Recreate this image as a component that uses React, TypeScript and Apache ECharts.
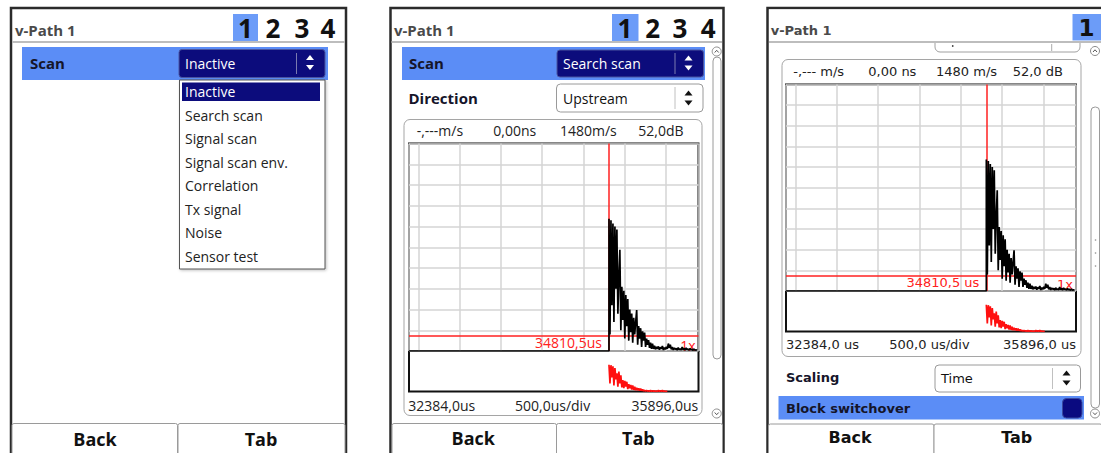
import React, { useEffect, useRef } from "react";
import * as echarts from "echarts";

// ---------------- data ----------------
const X_MIN_US = 32384;
const X_MAX_US = 35896;
const X_DIV_US = 500;
const CURSOR_US = 34810.5;
const THRESHOLD_PCT = 7.2;
const AMP_MAX = 100;
const AMP_STEP = 10;
const SAMPLE_START_US = 34810;
const SAMPLE_STEP_US = 12;

// received echo (upper plot), amplitude in % of full scale, one sample per SAMPLE_STEP_US
const ECHO_SIGNAL = [
  63.7, 8, 63, 22, 61.5, 14, 60, 30, 58.5, 18,
  36, 48.8, 10, 31, 15, 29, 6, 27, 12, 25,
  5, 20, 9, 18, 4, 16, 8, 14, 19.7, 3,
  12, 6, 11, 2, 9.5, 5, 8.9, 2, 6, 3,
  5.2, 1.5, 4, 1, 3.6, 1, 2.5, 0.8, 2, 1,
  2.2, 0.6, 1.8, 1, 2.4, 0.5, 1.6, 0.8, 2, 1,
  3.6, 1.5, 3, 0.8, 1.9, 0.5, 1.5, 0.8, 1.2, 0.4,
  1.6, 0.6, 1.1, 0.5, 1.9, 0.6, 1.3, 0.4, 1.5, 0.7,
  1, 0.4, 1.2, 0.5, 0.9, 0.3, 1, 0.4, 0.6, 0.3,
];

// envelope (lower plot), % of full scale
const ECHO_ENVELOPE = [
  66, 20, 65, 35, 62, 15, 58, 30, 45, 12,
  49, 20, 40, 10, 28, 8, 26, 12, 24, 6,
  18, 8, 16, 5, 15, 4, 12, 3, 9, 3,
  8, 2, 7, 2, 5, 1.5, 3, 1, 2.5, 1,
  2, 0.5, 3, 0.5, 2, 0.5, 1.5, 0.3, 1, 0.3,
  2.5, 0.3, 2, 0.3, 3, 0.3, 1, 0.3, 0.5, 0.2,
];

const SCAN_MODES = [
  "Inactive",
  "Search scan",
  "Signal scan",
  "Signal scan env.",
  "Correlation",
  "Tx signal",
  "Noise",
  "Sensor test",
];
const PATH_TABS = ["1", "2", "3", "4"];
const STATUS_TEXT = ["-,---m/s", "0,00ns", "1480m/s", "52,0dB"];
const STATUS_TEXT_WIDE = ["-,--- m/s", "0,00 ns", "1480 m/s", "52,0 dB"];
const PAGE_TITLE = "v-Path 1";

// ---------------- helpers ----------------
const OS = "'Open Sans', 'DejaVu Sans', sans-serif";
const DJ = "'DejaVu Sans', sans-serif";
const BLUE = "#5b8df6";
const TAB_BLUE = "#6c9cf8";
const NAVY = "#0c0c7c";
const RED = "#ff2020";

const fmt = (v: number, d: number) => v.toFixed(d).replace(".", ",");

const toSamples = (vals: number[]) =>
  vals.map((v, i) => [SAMPLE_START_US + i * SAMPLE_STEP_US, v]);
const echoData = [[X_MIN_US, 0], [SAMPLE_START_US, 0], ...toSamples(ECHO_SIGNAL)];
const envData = toSamples(ECHO_ENVELOPE);

const T = (x: number, y: number, text: string, font: string, fill = "#1a1a1a", align = "left") => ({
  type: "text",
  x,
  y,
  z: 4,
  style: { text, font, fill, align, verticalAlign: "middle" },
});
const R = (x: number, y: number, w: number, h: number, style: any, r = 0, z = 1) => ({
  type: "rect",
  z,
  shape: { x, y, width: w, height: h, r },
  style,
});
const L = (x1: number, y1: number, x2: number, y2: number, stroke: string, lineWidth = 1, z = 2) => ({
  type: "line",
  z,
  shape: { x1, y1, x2, y2 },
  style: { stroke, lineWidth },
});
const P = (points: number[][], fill: string) => ({
  type: "polygon",
  z: 3,
  shape: { points },
  style: { fill },
});
const spinner = (cx: number, cy: number, fill: string) => [
  P([[cx - 4, cy - 2.5], [cx + 4, cy - 2.5], [cx, cy - 7.5]], fill),
  P([[cx - 4, cy + 2.5], [cx + 4, cy + 2.5], [cx, cy + 7.5]], fill),
];
const scrollArrow = (cx: number, cy: number, up: boolean) => [
  { type: "circle", z: 2, shape: { cx, cy, r: 4.5 }, style: { fill: "#fff", stroke: "#8a8a8a", lineWidth: 1 } },
  {
    type: "polyline",
    z: 3,
    shape: {
      points: up
        ? [[cx - 2, cy + 1], [cx, cy - 1.2], [cx + 2, cy + 1]]
        : [[cx - 2, cy - 1], [cx, cy + 1.2], [cx + 2, cy - 1]],
    },
    style: { stroke: "#555", lineWidth: 1, fill: null },
  },
];
const frame = (x: number, w: number) => R(x, 8, w, 480, { fill: "#fff", stroke: "#2b2b2b", lineWidth: 2.5 }, 0, 0);
const button = (x: number, w: number, y: number) =>
  R(x, y, w, 40, { fill: "#fff", stroke: "#9a9a9a", lineWidth: 1 }, 2, 1);

// ---------------- graphic (device UI) ----------------
const tabX1 = [245.5, 273, 302, 328];
const tabX2 = [625, 652.7, 680, 708.3];

const ui: any[] = [];

// Panel 1
ui.push(frame(11, 335));
ui.push(L(12, 42, 345, 42, "#bdbdbd", 2));
ui.push(T(15, 30, PAGE_TITLE, `bold 15px ${OS}`, "#4a4a4a"));
ui.push(R(233, 14, 25, 27, { fill: TAB_BLUE }));
PATH_TABS.forEach((t, i) => ui.push(T(tabX1[i], 27.5, t, `bold 26px ${OS}`, "#111", "center")));
ui.push(R(22, 47, 306, 33, { fill: BLUE }));
ui.push(T(30, 63, "Scan", `bold 15px ${OS}`, "#15152a"));
ui.push(R(179, 49.5, 146, 28, { fill: NAVY, stroke: "#4a55a0", lineWidth: 1 }, 3));
ui.push(T(185, 63, SCAN_MODES[0], `14px ${OS}`, "#fff"));
ui.push(L(296.5, 53, 296.5, 74, "#7a7ab0", 1, 3));
ui.push(...spinner(310, 62.5, "#fff"));
ui.push(R(179.5, 80, 145.5, 189, { fill: "#fff", stroke: "#555", lineWidth: 1, shadowBlur: 3, shadowColor: "rgba(0,0,0,0.25)", shadowOffsetX: 1, shadowOffsetY: 1 }, 0, 2));
ui.push(R(182, 82.5, 138, 18.5, { fill: NAVY }, 0, 3));
SCAN_MODES.forEach((m, i) => ui.push(T(185, 91.5 + i * 23.5, m, `14px ${OS}`, i === 0 ? "#fff" : "#222")));
ui.push(button(12, 165.5, 423.5));
ui.push(button(178, 167, 423.5));
ui.push(T(95, 438.5, "Back", `bold 18px ${OS}`, "#111", "center"));
ui.push(T(261, 438.5, "Tab", `bold 18px ${OS}`, "#111", "center"));

// Panel 2
ui.push(frame(390.5, 333));
ui.push(L(391.5, 42, 722, 42, "#bdbdbd", 2));
ui.push(T(394, 30, PAGE_TITLE, `bold 15px ${OS}`, "#4a4a4a"));
ui.push(R(612, 14, 26.5, 27, { fill: TAB_BLUE }));
PATH_TABS.forEach((t, i) => ui.push(T(tabX2[i], 27.5, t, `bold 26px ${OS}`, "#111", "center")));
ui.push(R(402, 47, 303, 33, { fill: BLUE }));
ui.push(T(409, 63, "Scan", `bold 15px ${OS}`, "#15152a"));
ui.push(R(557, 50, 146.5, 27, { fill: NAVY, stroke: "#4a55a0", lineWidth: 1 }, 3));
ui.push(T(563, 63.5, SCAN_MODES[1], `14px ${OS}`, "#fff"));
ui.push(L(675, 53, 675, 74, "#7a7ab0", 1, 3));
ui.push(...spinner(688.5, 63, "#fff"));
ui.push(T(408.5, 97.5, "Direction", `bold 15px ${OS}`, "#15152a"));
ui.push(R(556.5, 84, 146.5, 28, { fill: "#fff", stroke: "#9a9a9a", lineWidth: 1 }, 4));
ui.push(T(563, 98, "Upstream", `14px ${OS}`, "#111"));
ui.push(L(675, 87, 675, 109, "#c0c0c0", 1, 3));
ui.push(...spinner(688.5, 98, "#111"));
ui.push(R(404, 119.5, 298, 296, { fill: "#fff", stroke: "#a5a5a5", lineWidth: 1 }, 6));
[416.7, 493.3, 560, 638.3].forEach((x, i) => ui.push(T(x, 130.5, STATUS_TEXT[i], `14px ${OS}`, "#222")));
ui.push(T(408.3, 405, `${fmt(X_MIN_US, 1)}us`, `14px ${OS}`, "#222"));
ui.push(T(515, 405, `${fmt(X_DIV_US, 1)}us/div`, `14px ${OS}`, "#222"));
ui.push(T(698.3, 405, `${fmt(X_MAX_US, 1)}us`, `14px ${OS}`, "#222", "right"));
ui.push(...scrollArrow(716.7, 51.5, true));
ui.push(R(713, 57, 8, 302, { fill: "#fff", stroke: "#9a9a9a", lineWidth: 1 }, 4, 2));
ui.push(...scrollArrow(716.7, 413.5, false));
ui.push(button(392, 164.5, 423.5));
ui.push(button(556.5, 166, 423.5));
ui.push(T(473.3, 438, "Back", `bold 18px ${OS}`, "#111", "center"));
ui.push(T(638.3, 438, "Tab", `bold 18px ${OS}`, "#111", "center"));

// Panel 3
ui.push(frame(767.5, 345));
ui.push(R(935, 18, 145, 34, { fill: "#fff", stroke: "#a0a0a0", lineWidth: 1 }, 5, 1));
ui.push(L(952.7, 45, 952.7, 47, "#555", 1.5, 2));
ui.push(L(1051.7, 44, 1051.7, 51, "#aaa", 1, 2));
ui.push(R(769, 9.5, 334, 32, { fill: "#fff" }, 0, 2));
ui.push(L(769, 42, 1101, 42, "#bdbdbd", 2, 3));
ui.push(T(770.7, 30, PAGE_TITLE, `bold 13px ${DJ}`, "#4a4a4a"));
ui.push(R(1072.5, 14, 29, 26.5, { fill: TAB_BLUE }, 0, 3));
ui.push(T(1086.5, 27.5, PATH_TABS[0], `bold 23px ${DJ}`, "#111", "center"));
ui.push(R(782, 59.5, 299, 297, { fill: "#fff", stroke: "#a5a5a5", lineWidth: 1 }, 6));
[793.3, 868.3, 936, 1012.7].forEach((x, i) => ui.push(T(x, 71, STATUS_TEXT_WIDE[i], `13px ${DJ}`, "#222")));
ui.push(T(786, 344.5, `${fmt(X_MIN_US, 1)} us`, `13px ${DJ}`, "#222"));
ui.push(T(889.3, 344.5, `${fmt(X_DIV_US, 1)} us/div`, `13px ${DJ}`, "#222"));
ui.push(T(1076, 344.5, `${fmt(X_MAX_US, 1)} us`, `13px ${DJ}`, "#222", "right"));
ui.push(T(786, 377.5, "Scaling", `bold 13px ${DJ}`, "#15152a"));
ui.push(R(935, 365, 145.5, 27, { fill: "#fff", stroke: "#9a9a9a", lineWidth: 1 }, 4));
ui.push(T(941, 378, "Time", `13px ${DJ}`, "#111"));
ui.push(L(1052.5, 368, 1052.5, 389, "#c0c0c0", 1, 3));
ui.push(...spinner(1066.5, 378, "#111"));
ui.push(R(778.5, 396, 305.5, 23.5, { fill: BLUE }));
ui.push(T(786, 408.5, "Block switchover", `bold 13px ${DJ}`, "#15152a"));
ui.push(R(1062.5, 398.5, 19.5, 19.5, { fill: "#0a0a80", stroke: "#3a4aa0", lineWidth: 1 }, 4, 3));
ui.push(...scrollArrow(1095, 51, true));
ui.push(R(1091, 107, 8.5, 301, { fill: "#fff", stroke: "#9a9a9a", lineWidth: 1 }, 4, 2));
[240, 253, 266].forEach((y) =>
  ui.push({ type: "circle", z: 3, shape: { cx: 1095.5, cy: y, r: 0.8 }, style: { fill: "#aaa" } })
);
ui.push(...scrollArrow(1095, 413.5, false));
ui.push(button(768.5, 165.5, 424));
ui.push(button(934, 168, 424));
ui.push(T(850, 437.5, "Back", `bold 16px ${DJ}`, "#111", "center"));
ui.push(T(1016.7, 437.5, "Tab", `bold 16px ${DJ}`, "#111", "center"));

// ---------------- chart option ----------------
const gridRects = [
  { left: 409, top: 143.5, width: 289.5, height: 207.5 },
  { left: 409, top: 351, width: 289.5, height: 40.5 },
  { left: 786, top: 84.5, width: 290, height: 206.5 },
  { left: 786, top: 291, width: 290, height: 40.5 },
];

const traceSeries = (gi: number, wide: boolean) => {
  const fontFamily = wide ? "DejaVu Sans" : "Open Sans";
  const fontSize = wide ? 13 : 14;
  const unit = wide ? " us" : "us";
  return [
    {
      type: "line",
      xAxisIndex: gi,
      yAxisIndex: gi,
      data: echoData,
      symbol: "none",
      z: 5,
      lineStyle: { color: "#000", width: 1.7 },
      markLine: {
        silent: true,
        symbol: "none",
        animation: false,
        lineStyle: { color: RED, width: 1.5, type: "solid" },
        data: [
          { xAxis: CURSOR_US, label: { show: false } },
          {
            yAxis: THRESHOLD_PCT,
            label: {
              show: true,
              formatter: "1x",
              position: "insideEndBottom",
              distance: [3, 2],
              color: RED,
              fontSize,
              fontFamily,
            },
          },
        ],
      },
      markPoint: {
        silent: true,
        animation: false,
        data: [
          {
            coord: [CURSOR_US, 0],
            symbol: "circle",
            symbolSize: 0,
            label: {
              show: true,
              position: "left",
              distance: 7,
              offset: [0, -8.5],
              formatter: `${fmt(CURSOR_US, 1)}${unit}`,
              color: RED,
              fontSize,
              fontFamily,
            },
          },
        ],
      },
    },
    {
      type: "line",
      xAxisIndex: gi + 1,
      yAxisIndex: gi + 1,
      data: envData,
      symbol: "none",
      z: 5,
      lineStyle: { color: "#ff1010", width: 1.7 },
    },
  ];
};

const option: any = {
  animation: false,
  backgroundColor: "#ffffff",
  graphic: ui,
  grid: gridRects.map((r) => ({
    ...r,
    show: true,
    borderColor: "#111",
    borderWidth: 2,
    backgroundColor: "transparent",
    z: 3,
  })),
  xAxis: gridRects.map((_, i) => ({
    gridIndex: i,
    type: "value",
    min: X_MIN_US,
    max: X_MAX_US,
    splitNumber: 7,
    z: 3,
    axisLine: { show: false },
    axisTick: { show: false },
    axisLabel: { show: false },
    splitLine: { show: i % 2 === 0, lineStyle: { color: "#d4d4d4", width: 1.5 } },
  })),
  yAxis: gridRects.map((_, i) => ({
    gridIndex: i,
    type: "value",
    min: 0,
    max: AMP_MAX,
    interval: AMP_STEP,
    z: 3,
    axisLine: { show: false },
    axisTick: { show: false },
    axisLabel: { show: false },
    splitLine: { show: i % 2 === 0, lineStyle: { color: "#d4d4d4", width: 1.5 } },
  })),
  series: [...traceSeries(0, false), ...traceSeries(2, true)],
};

export default function App() {
  const ref = useRef<HTMLDivElement>(null);
  useEffect(() => {
    document.body.style.margin = "0";
    if (!ref.current) return;
    const chart = echarts.init(ref.current, undefined, { renderer: "svg" });
    chart.setOption(option);
    return () => chart.dispose();
  }, []);
  return (
    <div
      ref={ref}
      style={{ position: "absolute", left: 0, top: 0, width: 1101, height: 453, background: "#fff" }}
    />
  );
}
